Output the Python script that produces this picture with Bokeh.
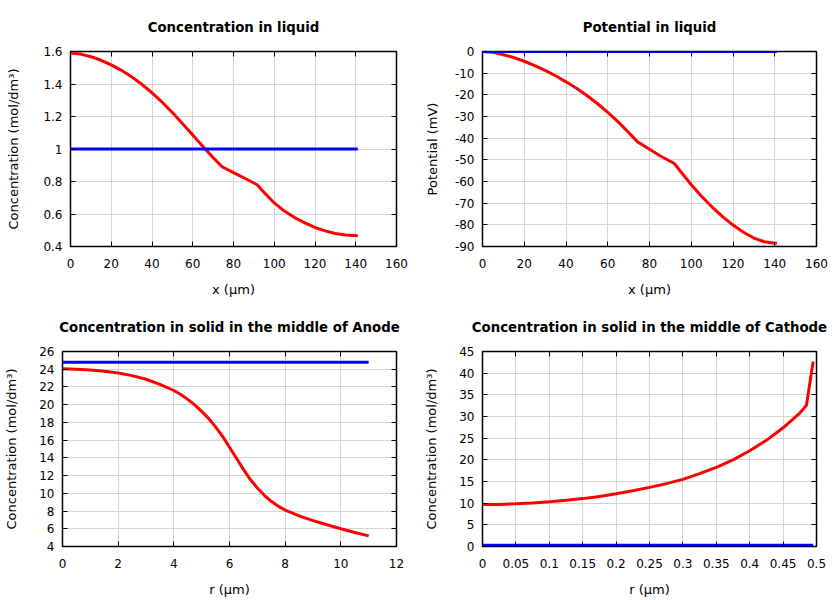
from bokeh.plotting import figure
from bokeh.layouts import column, row
from bokeh.models import Range1d, FixedTicker, LinearAxis, CustomJSTickFormatter
from bokeh.embed import file_html
from bokeh.resources import INLINE

# ---------------- data ----------------
# Concentration in liquid
liq_x = [0, 5, 10, 15, 20, 25, 30, 35, 40, 45, 50, 55, 60, 65, 70, 74.4, 80, 85, 91.6,
         95, 100, 105, 110, 115, 120, 125, 130, 135, 141]
liq_conc = [1.59, 1.584, 1.568, 1.546, 1.518, 1.484, 1.444, 1.398, 1.346, 1.288, 1.224,
            1.156, 1.086, 1.015, 0.947, 0.891, 0.855, 0.823, 0.780, 0.733, 0.668, 0.618,
            0.578, 0.545, 0.517, 0.496, 0.480, 0.471, 0.466]
liq_init_x = [0, 141]
liq_init_conc = [1.0, 1.0]

# Potential in liquid
pot_x = [0, 5, 10, 15, 20, 25, 30, 35, 40, 45, 50, 55, 60, 65, 70, 74.3, 80, 85, 91.9,
         95, 100, 105, 110, 115, 120, 125, 130, 135, 141]
pot_mv = [0, -0.4, -1.5, -2.8, -4.5, -6.5, -8.7, -11.2, -14.0, -17.0, -20.3, -24.0, -28.1,
          -32.5, -37.4, -41.7, -45.1, -48.1, -51.7, -55.5, -61.5, -66.9, -71.8, -76.2,
          -80.1, -83.4, -86.1, -87.8, -88.6]
pot_init_x = [0, 141]
pot_init_mv = [0, 0]

# Concentration in solid, anode
an_r = [0, 0.5, 1, 1.5, 2, 2.5, 3, 3.5, 4, 4.25, 4.5, 4.75, 5, 5.25, 5.5, 5.75, 6, 6.25,
        6.5, 6.75, 7, 7.25, 7.5, 7.75, 8, 8.5, 9, 9.5, 10, 10.5, 11]
an_conc = [24.04, 24.0, 23.92, 23.77, 23.57, 23.28, 22.87, 22.3, 21.6, 21.15, 20.6, 19.98,
           19.25, 18.45, 17.5, 16.42, 15.2, 13.95, 12.7, 11.55, 10.6, 9.78, 9.1, 8.55, 8.1,
           7.45, 6.92, 6.45, 6.0, 5.58, 5.2]
an_init_r = [0, 11]
an_init_conc = [24.8, 24.8]

# Concentration in solid, cathode
ca_r = [0, 0.025, 0.05, 0.075, 0.1, 0.125, 0.15, 0.175, 0.2, 0.225, 0.25, 0.275, 0.3,
        0.325, 0.35, 0.375, 0.4, 0.425, 0.45, 0.475, 0.485, 0.495]
ca_conc = [9.7, 9.72, 9.85, 10.05, 10.3, 10.65, 11.05, 11.55, 12.15, 12.85, 13.65, 14.5,
           15.5, 16.8, 18.25, 20.0, 22.1, 24.5, 27.4, 30.8, 32.6, 42.7]
ca_init_r = [0, 0.495]
ca_init_conc = [0.3, 0.3]

# ticks
liq_xticks = [0, 20, 40, 60, 80, 100, 120, 140, 160]
liq_yticks = [0.4, 0.6, 0.8, 1.0, 1.2, 1.4, 1.6]
pot_yticks = [0, -10, -20, -30, -40, -50, -60, -70, -80, -90]
an_xticks = [0, 2, 4, 6, 8, 10, 12]
an_yticks = [4, 6, 8, 10, 12, 14, 16, 18, 20, 22, 24, 26]
ca_xticks = [0, 0.05, 0.1, 0.15, 0.2, 0.25, 0.3, 0.35, 0.4, 0.45, 0.5]
ca_yticks = [0, 5, 10, 15, 20, 25, 30, 35, 40, 45]

FONT = "DejaVu Sans"
FMT = "return String(parseFloat(tick.toFixed(6)));"


def panel(title, xlabel, ylabel, xr, yr, xt, yt, red, blue, ml, mr, mt, mb,
          ylab_standoff, xlab_standoff):
    p = figure(width=420, height=300, output_backend="svg", toolbar_location=None,
               x_range=Range1d(*xr), y_range=Range1d(*yr),
               min_border_left=ml, min_border_right=mr,
               min_border_top=mt, min_border_bottom=mb,
               outline_line_color="black", outline_line_width=1.5,
               background_fill_color="white", border_fill_color="white")
    p.title.text = title
    p.title.align = "center"
    p.title.text_font = FONT
    p.title.text_font_size = "13.3px"
    p.title.text_font_style = "bold"
    p.title.text_color = "black"
    p.title.standoff = 34

    p.xaxis.ticker = FixedTicker(ticks=xt)
    p.yaxis.ticker = FixedTicker(ticks=yt)
    for ax, lab, so in ((p.xaxis, xlabel, xlab_standoff), (p.yaxis, ylabel, ylab_standoff)):
        ax.axis_label = lab
        ax.formatter = CustomJSTickFormatter(code=FMT)
        ax.axis_label_text_font = FONT
        ax.axis_label_text_font_size = "13px"
        ax.axis_label_text_font_style = "normal"
        ax.axis_label_text_color = "black"
        ax.axis_label_standoff = so
        ax.major_label_text_font = FONT
        ax.major_label_text_font_size = "12px"
        ax.major_label_text_color = "black"
        ax.major_tick_in = 5
        ax.major_tick_out = 0
        ax.minor_tick_line_color = None
        ax.axis_line_color = None
        ax.major_tick_line_color = "black"
    p.xaxis.major_label_standoff = 12
    p.yaxis.major_label_standoff = 8

    for side, ticks in (("above", xt), ("right", yt)):
        ax = LinearAxis(ticker=FixedTicker(ticks=ticks),
                        formatter=CustomJSTickFormatter(code="return '';"),
                        major_label_text_font_size="1px", major_label_text_color=None,
                        major_label_standoff=0, major_tick_in=5, major_tick_out=0,
                        minor_tick_line_color=None, axis_line_color=None,
                        major_tick_line_color="black")
        p.add_layout(ax, side)

    p.xgrid.ticker = FixedTicker(ticks=xt)
    p.ygrid.ticker = FixedTicker(ticks=yt)
    p.grid.grid_line_color = "#d4d4d4"
    p.grid.grid_line_width = 1

    p.line(red[0], red[1], line_color="#ff0000", line_width=3)
    p.line(blue[0], blue[1], line_color="#0000ff", line_width=3)
    return p


p1 = panel("Concentration in liquid", "x (µm)", "Concentration (mol/dm³)",
           (0, 160), (0.4, 1.6), liq_xticks, liq_yticks,
           (liq_x, liq_conc), (liq_init_x, liq_init_conc),
           70, 24, 51, 54, 19, 11)
p2 = panel("Potential in liquid", "x (µm)", "Potential (mV)",
           (0, 160), (-90, 0), liq_xticks, pot_yticks,
           (pot_x, pot_mv), (pot_init_x, pot_init_mv),
           62, 24, 51, 54, 12, 11)
p3 = panel("Concentration in solid in the middle of Anode", "r (µm)", "Concentration (mol/dm³)",
           (0, 12), (4, 26), an_xticks, an_yticks,
           (an_r, an_conc), (an_init_r, an_init_conc),
           62, 24, 51, 54, 17, 11)
p4 = panel("Concentration in solid in the middle of Cathode", "r (µm)", "Concentration (mol/dm³)",
           (0, 0.5), (0, 45), ca_xticks, ca_yticks,
           (ca_r, ca_conc), (ca_init_r, ca_init_conc),
           62, 24, 51, 54, 17, 11)

layout = column(row(p1, p2), row(p3, p4))

open("out.html", "w").write(file_html(layout, INLINE))
